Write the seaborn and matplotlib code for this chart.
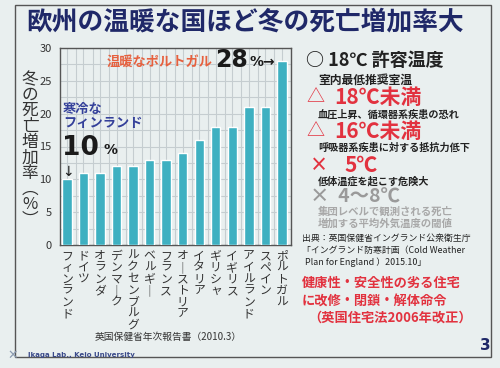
import numpy as np
import pandas as pd
import matplotlib
matplotlib.use("Agg")
import matplotlib.pyplot as plt
import seaborn as sns
from matplotlib.patches import Rectangle

# chart data
countries = ["フィンランド", "ドイツ", "オランダ", "デンマーク", "ルクセンブルグ", "ベルギー",
             "フランス", "オーストリア", "イタリア", "ギリシャ", "イギリス", "アイルランド",
             "スペイン", "ポルトガル"]
rates = [10, 11, 11, 12, 12, 13, 13, 14, 16, 18, 18, 21, 21, 28]
y_ticks = [0, 5, 10, 15, 20, 25, 30]

title = "欧州の温暖な国ほど冬の死亡増加率大"
y_label = "冬の死亡増加率︵%︶"
source_note = "英国保健省年次報告書（2010.3）"

sns.set_theme(style="white")
plt.rcParams["font.family"] = ["Noto Sans CJK JP", "DejaVu Sans"]

BG = "#e9efef"
BAR = "#3eb0c1"
NAVY = "#1f2868"
RED = "#e2323f"
ORANGE = "#e6603e"
BLUE = "#34409a"
GRAY = "#9a9a9a"

fig = plt.figure(figsize=(5, 3.68), dpi=100, facecolor=BG)


def P(x, y):
    # pixel position on the 500x368 slide -> figure fraction
    return x / 500, 1 - y / 368


# slide frame
fig.patches.append(Rectangle(P(15, 357), 476 / 500, 352 / 368, transform=fig.transFigure,
                             fill=False, edgecolor="#555555", lw=1.0))

fig.text(*P(245, 22), title, ha="center", va="center", fontsize=18.5,
         fontweight="bold", color=NAVY)

ax = fig.add_axes([60 / 500, 1 - 245 / 368, 231 / 500, 197 / 368])
ax.set_facecolor(BG)

df = pd.DataFrame({"country": countries, "rate": rates})
sns.barplot(data=df, x="country", y="rate", color=BAR, saturation=1, width=0.57, ax=ax, zorder=3)

ax.set_xlim(-0.42, 13.42)
ax.set_ylim(0, 30)
ax.set_yticks(y_ticks)
ax.set_yticks(np.arange(0, 30, 2.5), minor=True)
ax.set_xticks(np.arange(len(countries)) + 0.55, minor=True)
ax.grid(which="both", color="#c5cdd0", lw=0.8, zorder=0)
ax.set_axisbelow(True)
for s in ax.spines.values():
    s.set_color("#555555")
    s.set_linewidth(1.0)

# vertical (tategaki) tick labels
vert = [c.replace("ー", "｜") for c in countries]
ax.set_xticks(range(len(countries)))
ax.set_xticklabels(["\n".join(v) for v in vert], fontsize=8.5, color="#333333",
                   linespacing=0.86, va="top")
ax.tick_params(axis="x", which="both", length=0, pad=3)
ax.tick_params(axis="y", which="both", length=0, pad=6, labelsize=8, labelcolor="#333333")
ax.set_xlabel("")
ax.set_ylabel("")

# vertical y label
fig.text(*P(30, 150), "\n".join(y_label), ha="center", va="center", fontsize=12,
         color="#333333", linespacing=0.9)

# annotations inside chart
fig.text(*P(63, 109), "寒冷な", fontsize=9.5, fontweight="bold", color=BLUE, va="center")
fig.text(*P(63, 123), "フィンランド", fontsize=9.5, fontweight="bold", color=BLUE, va="center")
fig.text(*P(62, 148), "10", fontsize=19, fontweight="bold", color="#1a1a1a", va="center",
         family="DejaVu Sans")
fig.text(*P(103, 150), "%", fontsize=10, fontweight="bold", color="#1a1a1a", va="center",
         family="DejaVu Sans")
fig.text(*P(62, 172), "↓", fontsize=10, color="#1a1a1a", va="center", family="DejaVu Sans")

fig.text(*P(107, 62), "温暖なポルトガル", fontsize=9.5, fontweight="bold", color=ORANGE, va="center")
fig.text(*P(215, 60), "28", fontsize=17, fontweight="bold", color="#1a1a1a", va="center",
         family="DejaVu Sans")
fig.text(*P(250, 62), "%→", fontsize=10, fontweight="bold", color="#1a1a1a", va="center",
         family="DejaVu Sans")

fig.text(*P(168, 337), source_note, ha="center", va="center", fontsize=7, color="#333333")

# right-hand panel
fig.text(*P(306, 60), "○ 18℃ 許容温度", fontsize=13, fontweight="bold", color="#222222", va="center")
fig.text(*P(318, 80), "室内最低推奨室温", fontsize=8.5, fontweight="bold", color="#222222", va="center")
fig.text(*P(306, 97), "△", fontsize=13, color=RED, va="center")
fig.text(*P(334, 97), "18℃未満", fontsize=15, fontweight="bold", color=RED, va="center")
fig.text(*P(318, 115), "血圧上昇、循環器系疾患の恐れ", fontsize=7.3, fontweight="bold",
         color="#222222", va="center")
fig.text(*P(306, 131), "△", fontsize=13, color=RED, va="center")
fig.text(*P(334, 131), "16℃未満", fontsize=15, fontweight="bold", color=RED, va="center")
fig.text(*P(318, 148), "呼吸器系疾患に対する抵抗力低下", fontsize=7.3, fontweight="bold",
         color="#222222", va="center")
fig.text(*P(310, 165), "×", fontsize=13, fontweight="bold", color=RED, va="center")
fig.text(*P(344, 165), "5℃", fontsize=15, fontweight="bold", color=RED, va="center")
fig.text(*P(318, 181), "低体温症を起こす危険大", fontsize=7.3, fontweight="bold",
         color="#222222", va="center")
fig.text(*P(310, 197), "×  4〜8℃", fontsize=14, fontweight="bold", color=GRAY, va="center")
fig.text(*P(318, 212), "集団レベルで観測される死亡", fontsize=7.5, fontweight="bold",
         color="#a8a8a8", va="center")
fig.text(*P(318, 224), "増加する平均外気温度の閾値", fontsize=7.5, fontweight="bold",
         color="#a8a8a8", va="center")
fig.text(*P(302, 238), "出典：英国保健省イングランド公衆衛生庁", fontsize=6.4, color="#222222", va="center")
fig.text(*P(302, 250), "「イングランド防寒計画（Cold Weather", fontsize=6.4, color="#222222", va="center")
fig.text(*P(305, 262), "Plan for England ）2015.10」", fontsize=6.4, color="#222222", va="center")
fig.text(*P(302, 283), "健康性・安全性の劣る住宅", fontsize=9.5, fontweight="bold", color=RED, va="center")
fig.text(*P(302, 302), "に改修・閉鎖・解体命令", fontsize=9.5, fontweight="bold", color=RED, va="center")
fig.text(*P(308, 318), "（英国住宅法2006年改正）", fontsize=9.5, fontweight="bold", color=RED, va="center")

fig.text(*P(485, 345), "3", fontsize=11, fontweight="bold", color=NAVY, ha="center", va="center",
         family="DejaVu Sans")
fig.text(*P(28, 355), "Ikaga Lab., Keio University", fontsize=5, fontweight="bold",
         color="#3a4a8a", va="center", family="DejaVu Sans")
fig.text(*P(13, 355), "✕", fontsize=9, color="#8a9ab0", ha="center", va="center", family="DejaVu Sans")

fig.savefig("out.png", dpi=100, facecolor=BG)
